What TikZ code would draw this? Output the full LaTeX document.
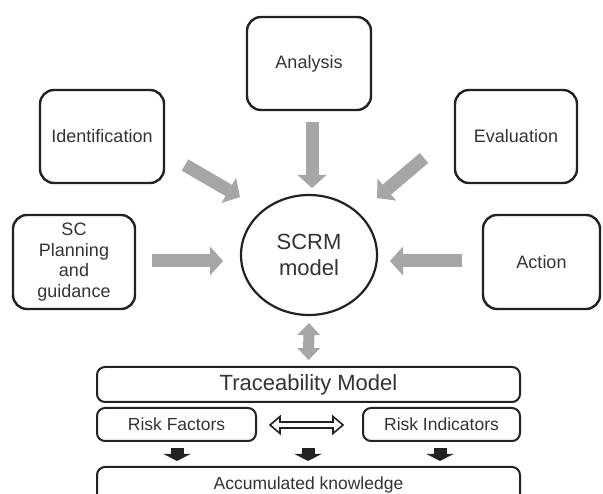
\documentclass[tikz,border=0pt]{standalone}
\usepackage{fontspec}
\setmainfont{Liberation Sans}
\usetikzlibrary{arrows.meta,shapes.geometric,calc}
\definecolor{arrgray}{HTML}{A6A6A6}
\definecolor{linec}{HTML}{222222}
\definecolor{txtc}{HTML}{333333}
\begin{document}
\begin{tikzpicture}[x=1pt,y=-1pt,
  box/.style={draw=linec, line width=2.4pt, rounded corners=14pt, align=center,
    font=\fontsize{18}{20.5}\selectfont, text=txtc, inner sep=0pt},
  lowbox/.style={draw=linec, line width=2pt, rounded corners=8pt, align=center,
    font=\fontsize{17.5}{20}\selectfont, text=txtc, inner sep=0pt},
  grayarrow/.style={draw=arrgray, line width=13pt,
    -{Triangle[length=13pt,width=29pt,line width=0pt]}},
  grayboth/.style={draw=arrgray, line width=11pt,
    {Triangle[length=12pt,width=23pt,line width=0pt]}-{Triangle[length=12pt,width=23pt,line width=0pt]}},
  blackarrow/.style={draw=linec, line width=13pt,
    -{Triangle[length=7pt,width=27pt,line width=0pt]}},
  hollowarrow/.style={draw=linec, fill=white, line width=1.6pt, line join=miter}
]
\useasboundingbox (0,0) rectangle (603,494);

% upper boxes
\node[box, minimum width=124pt, minimum height=93pt] (ana) at (309,63.5) {Analysis};
\node[box, minimum width=124pt, minimum height=93pt] (ident) at (102,136.5) {Identification};
\node[box, minimum width=122pt, minimum height=93pt] (eval) at (516,136.5) {Evaluation};
\node[box, minimum width=122pt, minimum height=94pt] (scp) at (74,262) {SC\\Planning\\and\\guidance};
\node[box, minimum width=117pt, minimum height=94pt] (act) at (541.5,262) {Action};
\node[ellipse, draw=linec, line width=2.2pt, minimum width=136pt, minimum height=120pt,
  inner sep=0pt, align=center, text=txtc, font=\fontsize{22}{26}\selectfont] (scrm) at (309,255) {SCRM\\model};

% gray arrows into the model
\coordinate (anaT) at (312,122);  \coordinate (anaH) at (312,188);
\coordinate (idT) at (185,165);   \coordinate (idH) at (240,197);
\coordinate (evT) at (424,158);   \coordinate (evH) at (377,198);
\coordinate (scT) at (152,261);   \coordinate (scH) at (223,261);
\coordinate (acT) at (462,261);   \coordinate (acH) at (390,261);
\draw[grayarrow] (anaT) -- (anaH);
\draw[grayarrow] (idT) -- (idH);
\draw[grayarrow] (evT) -- (evH);
\draw[grayarrow] (scT) -- (scH);
\draw[grayarrow] (acT) -- (acH);

% lower part
\node[lowbox, minimum width=423pt, minimum height=35pt, font=\fontsize{22}{26}\selectfont] (trace) at (308.5,384.5) {Traceability Model};
\node[lowbox, minimum width=159pt, minimum height=33pt] (rf) at (176.5,424.5) {Risk Factors};
\node[lowbox, minimum width=157pt, minimum height=33pt] (ri) at (441.5,424.5) {Risk Indicators};
\node[lowbox, minimum width=423pt, minimum height=36pt] (acc) at (308.5,485) {Accumulated knowledge};

\draw[grayboth, shorten <=7pt, shorten >=6pt] (scrm.south) -- (trace.north);

% hollow double arrow between risk boxes
\draw[hollowarrow] (270,425) -- (280,416.5) -- (280,422) -- (333,422) -- (333,416.5)
  -- (343,425) -- (333,433.5) -- (333,428) -- (280,428) -- (280,433.5) -- cycle;

% black arrows to accumulated knowledge
\coordinate (b1T) at (177,448); \coordinate (b1H) at (177,461);
\coordinate (b2T) at (308,448); \coordinate (b2H) at (308,461);
\coordinate (b3T) at (440,448); \coordinate (b3H) at (440,461);
\draw[blackarrow] (b1T) -- (b1H);
\draw[blackarrow] (b2T) -- (b2H);
\draw[blackarrow] (b3T) -- (b3H);
\end{tikzpicture}
\end{document}
